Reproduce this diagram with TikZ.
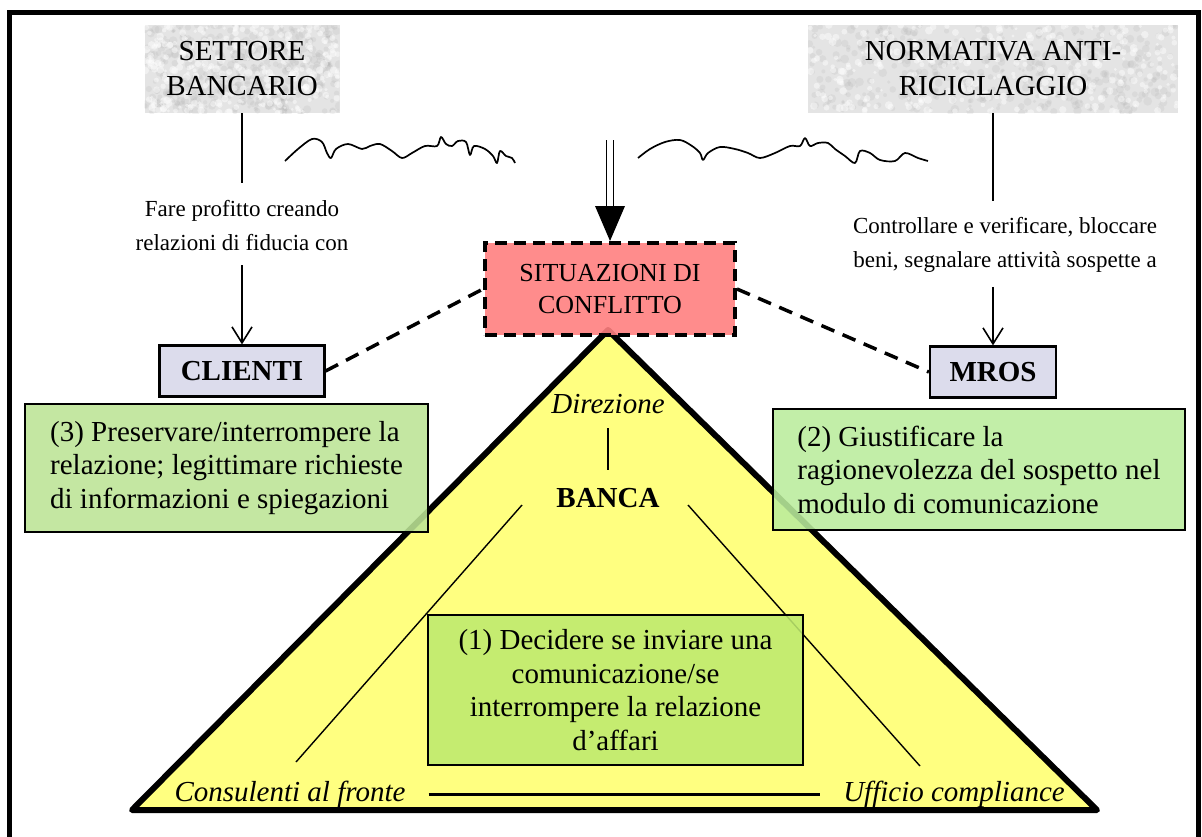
\documentclass[tikz,border=0pt]{standalone}
\usepackage{fontspec}
\setmainfont{Liberation Serif}
\usetikzlibrary{arrows.meta,calc}

\definecolor{paper}{RGB}{255,255,255}
\definecolor{stone}{RGB}{228,228,228}
\definecolor{lavender}{RGB}{220,220,236}
\definecolor{salmon}{RGB}{255,128,128}
\definecolor{pyramidyellow}{RGB}{255,255,128}
\definecolor{leafgreen}{RGB}{190,234,110}
\definecolor{mintgreen}{RGB}{186,236,156}
\definecolor{sagegreen}{RGB}{188,228,150}

\pgfdeclarelayer{background}
\pgfdeclarelayer{paperlayer}
\pgfsetlayers{paperlayer,background,main}

\tikzset{
  frame/.style={line width=5pt},
  bigtext/.style={font=\fontsize{29}{35}\selectfont, align=center},
  stonebox/.style={bigtext, inner sep=0pt},
  note/.style={font=\fontsize{23}{34}\selectfont, align=center, inner sep=0pt},
  actor/.style={draw, line width=2.2pt, fill=lavender, inner sep=0pt,
    minimum height=51pt, font=\fontsize{29}{34}\selectfont\bfseries},
  conflict/.style={draw, line width=4pt, dash pattern=on 12pt off 7pt,
    fill=salmon, fill opacity=.9, text opacity=1, minimum width=250pt,
    minimum height=92pt, inner sep=0pt, font=\fontsize{26}{32}\selectfont, align=center},
  task/.style={draw, line width=2.6pt, fill opacity=.88, text opacity=1,
    inner sep=0pt, font=\fontsize{29}{33.5}\selectfont},
  link/.style={line width=3.5pt, dash pattern=on 14pt off 9pt},
  feed/.style={line width=1.6pt},
  feedarrow/.style={line width=1.6pt, -{Straight Barb[length=16pt,width=20pt,line width=1.6pt]}},
  pyramid/.style={line width=6pt, line join=round, fill=pyramidyellow},
  level/.style={font=\fontsize{29}{34}\selectfont\itshape, inner sep=3pt},
  squiggle/.style={line width=1.7pt, line join=round},
  speckdark/.style={fill=black!40, opacity=.12},
  specklight/.style={fill=white, opacity=.45}
}

% speckled stone background behind a source box: #1 = left, #2 = top, #3 = width, #4 = height
\newcommand\stonetexture[4]{%
  \begin{pgfonlayer}{background}
    \fill[stone] (#1,#2) rectangle ++(#3,#4);
    \begin{scope}
      \clip (#1,#2) rectangle ++(#3,#4);
      \foreach \k in {1,...,420}{
        \pgfmathsetmacro\ax{#1+#3*rnd}\pgfmathsetmacro\ay{#2+#4*rnd}\pgfmathsetmacro\ar{1.5+3*rnd}
        \fill[speckdark] (\ax,\ay) circle (\ar pt);
      }
      \foreach \k in {1,...,300}{
        \pgfmathsetmacro\ax{#1+#3*rnd}\pgfmathsetmacro\ay{#2+#4*rnd}\pgfmathsetmacro\ar{1.5+2.5*rnd}
        \fill[specklight] (\ax,\ay) circle (\ar pt);
      }
    \end{scope}
  \end{pgfonlayer}}

\begin{document}
\begin{tikzpicture}[x=1pt,y=-1pt]
\pgfmathsetseed{4711}
\useasboundingbox (0,0) rectangle (1202,836);
\begin{pgfonlayer}{paperlayer}
  \fill[paper] (0,0) rectangle (1202,836);
\end{pgfonlayer}

% outer frame
\draw[frame] (9,12) rectangle (1198,880);

% the two sources
\node[stonebox, minimum width=195pt, minimum height=88pt] (settore) at (242,69) {SETTORE\\BANCARIO};
\node[stonebox, minimum width=370pt, minimum height=88pt] (norma) at (993,69) {NORMATIVA ANTI-\\RICICLAGGIO};
\stonetexture{144.5}{25}{195}{88}
\stonetexture{808}{25}{370}{88}

% the pyramid of the bank
\coordinate (apex) at (608,330);
\coordinate (baseL) at (132,810);
\coordinate (baseR) at (1097,810);
\filldraw[pyramid] (apex) -- (baseL) -- (baseR) -- cycle;

\node[level] (dir) at (608,404) {Direzione};
\node[font=\fontsize{29}{34}\selectfont\bfseries, inner sep=3pt] (banca) at (608,498) {BANCA};
\node[level] (cons) at (290,794) {Consulenti al fronte};
\node[level] (uff) at (954,794) {Ufficio compliance};

\draw[line width=1.6pt, shorten <=24pt, shorten >=28pt] (dir.center) -- (banca.center);
\coordinate (bancaL) at (522,505);
\coordinate (bancaR) at (688,505);
\coordinate (consT) at (296,762);
\coordinate (uffT) at (920,766);
\draw[line width=1.4pt] (bancaL) -- (consT);
\draw[line width=1.4pt] (bancaR) -- (uffT);
\draw[line width=3pt, shorten <=20pt, shorten >=20pt] (cons.east) -- (uff.west);

% conflict box and the pressure from both sides
\node[conflict] (sit) at (610,289) {SITUAZIONI DI\\CONFLITTO};

\draw[squiggle] plot[smooth, tension=0.55] coordinates {
  (285,161) (298,149) (312,139) (322,142) (327,153) (331,158) (336,149)
  (348,144) (362,149) (370,146) (380,144) (392,151) (402,158) (412,153)
  (425,146) (437,146) (441,137) (446,144) (452,146) (458,141) (466,142)
  (470,155) (474,146) (485,149) (493,156) (497,163) (500,151) (506,156)
  (512,158) (515,163)};
\draw[squiggle] plot[smooth, tension=0.55] coordinates {
  (638,158) (650,149) (665,142) (680,140) (692,146) (700,153) (703,160)
  (708,153) (720,147) (735,149) (748,153) (760,158) (775,153) (790,146)
  (800,146) (805,138) (810,146) (818,143) (828,143) (835,149) (845,156)
  (855,163) (860,151) (870,153) (880,160) (895,161) (905,153) (918,158)
  (928,161)};

\coordinate (pushtop) at (610,140);
\draw[line width=1.6pt] ($(pushtop)+(-3.5,0)$) -- ($(sit.north)+(-3.5,-33)$);
\draw[line width=1.6pt] ($(pushtop)+(3.5,0)$) -- ($(sit.north)+(3.5,-33)$);
\fill (sit.north) -- ++(-15,-35) -- ++(30,0) -- cycle;

% clients side
\node[note] (profitto) at (242,226) {Fare profitto creando\\relazioni di fiducia con};
\node[actor, minimum width=165pt] (clienti) at (242,371) {CLIENTI};
\draw[feed] (settore.south) -- ($(profitto.north)+(0,-18)$);
\draw[feedarrow] ($(profitto.south)+(0,14)$) -- (clienti.north);

% reporting side
\node[note] (controllo) at (1005,245) {Controllare e verificare, bloccare\\beni, segnalare attività sospette a};
\node[actor, minimum width=126pt] (mros) at (993,372) {MROS};
\draw[feed] (norma.south) -- ($(norma.south |- controllo.north)+(0,-16)$);
\draw[feedarrow] ($(mros.north |- controllo.south)+(0,14)$) -- (mros.north);

\draw[link] (clienti.east) -- (sit.west);
\draw[link] (sit.east) -- (mros.west);

% the three tasks
\node[task, fill=sagegreen, minimum width=403pt, minimum height=128pt, align=left] (t3) at (226.5,468)
  {(3) Preservare/interrompere la\\relazione; legittimare richieste\\di informazioni e spiegazioni};
\node[task, fill=mintgreen, minimum width=412pt, minimum height=121pt, align=left] (t2) at (979,469.5)
  {(2) Giustificare la\\ragionevolezza del sospetto nel\\modulo di comunicazione};
\node[task, fill=leafgreen, minimum width=375pt, minimum height=150pt, align=center] (t1) at (615.5,690)
  {(1) Decidere se inviare una\\comunicazione/se\\interrompere la relazione\\d’affari};
\end{tikzpicture}
\end{document}
